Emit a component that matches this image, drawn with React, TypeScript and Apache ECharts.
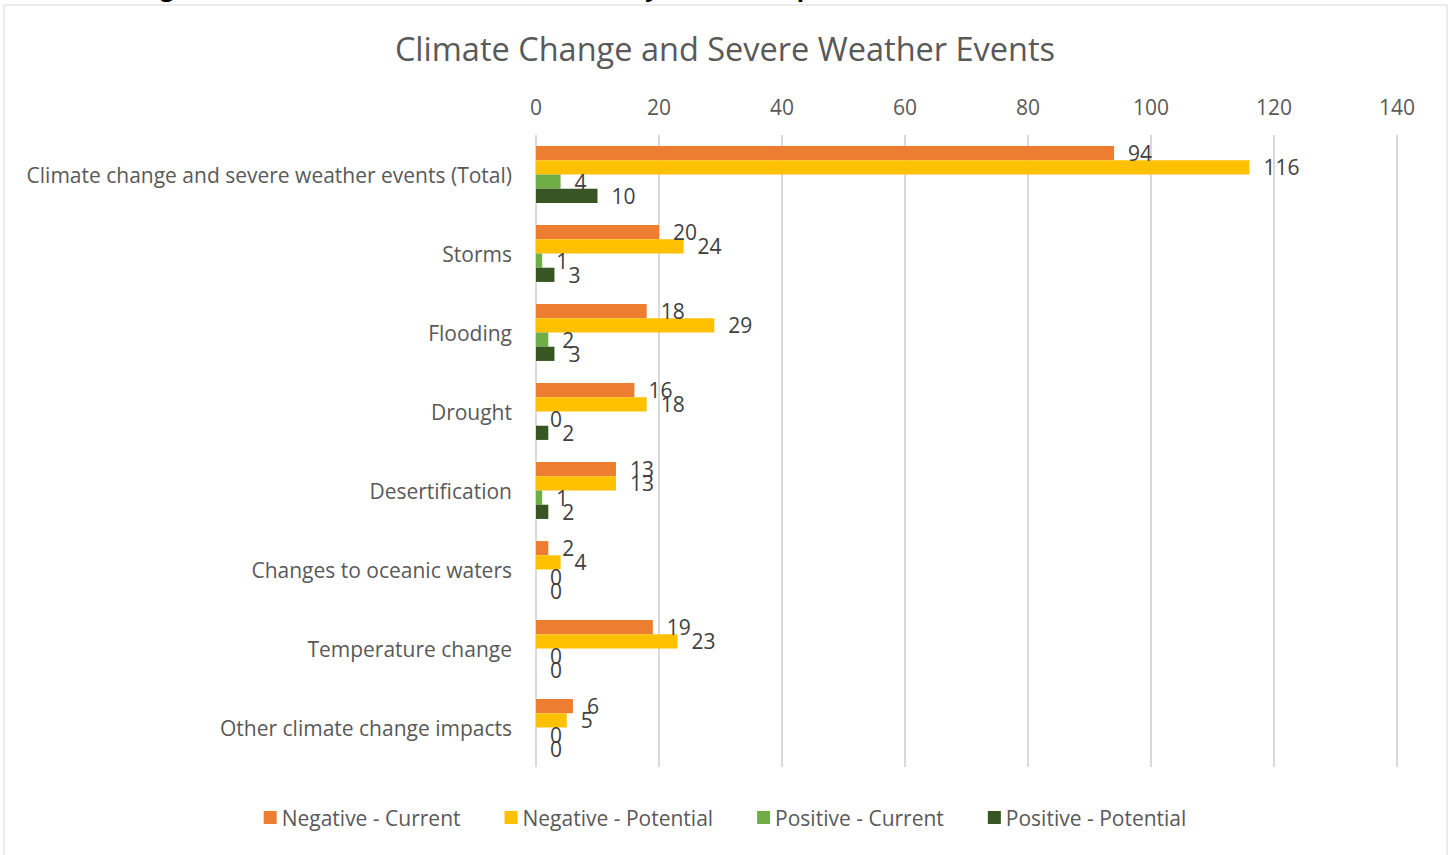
import React, { useEffect, useRef } from "react";
import * as echarts from "echarts";

const categories = [
  "Climate change and severe weather events (Total)",
  "Storms",
  "Flooding",
  "Drought",
  "Desertification",
  "Changes to oceanic waters",
  "Temperature change",
  "Other climate change impacts",
];
const negativeCurrent = [94, 20, 18, 16, 13, 2, 19, 6];
const negativePotential = [116, 24, 29, 18, 13, 4, 23, 5];
const positiveCurrent = [4, 1, 2, 0, 1, 0, 0, 0];
const positivePotential = [10, 3, 3, 2, 2, 0, 0, 0];
const seriesNames = ["Negative - Current", "Negative - Potential", "Positive - Current", "Positive - Potential"];
const colors = ["#ED7D31", "#FFC000", "#70AD47", "#375623"];

const FONT = "'Open Sans', 'Noto Sans', sans-serif";

export default function App() {
  const ref = useRef<HTMLDivElement>(null);
  useEffect(() => {
    if (!ref.current) return;
    const chart = echarts.init(ref.current, undefined, { renderer: "svg" });
    const datasets = [negativeCurrent, negativePotential, positiveCurrent, positivePotential];
    chart.setOption({
      animation: false,
      textStyle: { fontFamily: FONT },
      graphic: [
        {
          type: "rect",
          shape: { x: 4, y: 5, width: 1443, height: 870 },
          style: { fill: "none", stroke: "#D9D9D9", lineWidth: 1 },
          silent: true,
        },
        {
          type: "text",
          left: 0,
          top: -26,
          style: {
            text: "Climate Change and Severe Weather Events: Secondary Data on Impact",
            fill: "#000",
            font: "bold 24px 'Open Sans', sans-serif",
          },
          silent: true,
        },
      ],
      title: {
        text: "Climate Change and Severe Weather Events",
        left: "center",
        top: 27,
        textStyle: { color: "#595959", fontSize: 32.5, fontWeight: "normal", fontFamily: FONT },
      },
      legend: {
        data: seriesNames,
        bottom: 22,
        left: "center",
        itemWidth: 13,
        itemHeight: 13,
        itemGap: 44,
        icon: "rect",
        textStyle: { color: "#595959", fontSize: 21, fontFamily: FONT },
      },
      grid: { left: 536, right: 53, top: 135, bottom: 88 },
      xAxis: {
        type: "value",
        position: "top",
        min: 0,
        max: 140,
        interval: 20,
        axisLine: { show: false },
        axisTick: { show: false },
        axisLabel: { color: "#595959", fontSize: 21, margin: 18, fontFamily: FONT },
        splitLine: { lineStyle: { color: "#D9D9D9", width: 2 } },
      },
      yAxis: {
        type: "category",
        data: categories,
        inverse: true,
        axisLine: { show: false },
        axisTick: { show: false },
        axisLabel: { color: "#595959", fontSize: 21, margin: 24, fontFamily: FONT },
      },
      series: seriesNames.map((name, i) => ({
        name,
        type: "bar",
        data: datasets[i],
        itemStyle: { color: colors[i] },
        barGap: "0%",
        barCategoryGap: "28%",
        label: {
          show: true,
          position: "right",
          distance: 14,
          color: "#404040",
          fontSize: 21,
          fontFamily: FONT,
        },
      })),
    });
    return () => chart.dispose();
  }, []);
  return (
    <div
      ref={ref}
      style={{ position: "absolute", left: 0, top: 0, width: 1450, height: 855, background: "#fff" }}
    />
  );
}
